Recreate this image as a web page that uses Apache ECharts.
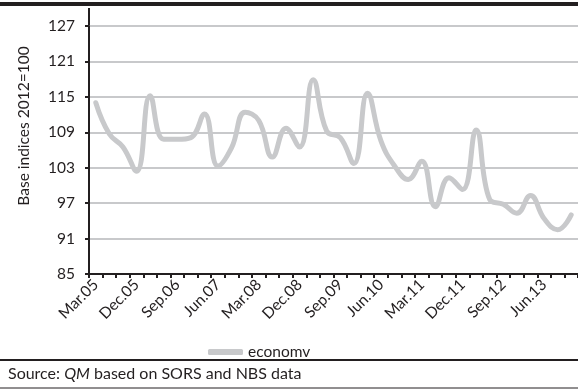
<!DOCTYPE html>
<html>
<head>
<meta charset="utf-8">
<script src="https://cdn.jsdelivr.net/npm/echarts@6/dist/echarts.min.js"></script>
<style>
  html, body { margin: 0; padding: 0; background: #fff; }
  #chart { width: 578px; height: 389px; }
</style>
</head>
<body>
<div id="chart"></div>
<script>
// Quarterly base indices (2012 = 100)
const quarters = [
  'Mar.05','Jun.05','Sep.05','Dec.05',
  'Mar.06','Jun.06','Sep.06','Dec.06',
  'Mar.07','Jun.07','Sep.07','Dec.07',
  'Mar.08','Jun.08','Sep.08','Dec.08',
  'Mar.09','Jun.09','Sep.09','Dec.09',
  'Mar.10','Jun.10','Sep.10','Dec.10',
  'Mar.11','Jun.11','Sep.11','Dec.11',
  'Mar.12','Jun.12','Sep.12','Dec.12',
  'Mar.13','Jun.13','Sep.13','Dec.13'
];
const economvValues = [
  114.0, 108.7, 106.5, 102.4,
  115.2, 107.8, 107.8, 108.1,
  112.1, 103.3, 106.4, 112.4,
  111.0, 104.8, 109.7, 106.5,
  117.9, 109.2, 108.1, 103.7,
  115.6, 107.5, 103.3, 101.0,
  104.1, 96.4, 101.3, 99.3,
  109.4, 97.6, 96.8, 95.3,
  98.3, 94.4, 92.5, 95.0
];
const seriesName = 'economv';
const yAxisTitle = 'Base indices 2012=100';
const sourceNote = ['Source: ', 'QM', ' based on SORS and NBS data'];

const FONT = 'Lato, "Noto Sans", sans-serif';
const INK = '#231f20';
const LINE_GREY = '#c8c9cb';

const chart = echarts.init(document.getElementById('chart'), null, { renderer: 'canvas' });

chart.setOption({
  animation: false,
  backgroundColor: '#ffffff',
  textStyle: { fontFamily: FONT, color: INK },
  grid: { left: 89, right: -1, top: 26, bottom: 115, containLabel: false },
  legend: {
    left: 203, top: 339,
    icon: 'roundRect',
    itemWidth: 35, itemHeight: 6, itemGap: 10,
    textStyle: { fontFamily: FONT, fontSize: 15.5, color: INK },
    data: [seriesName]
  },
  xAxis: {
    type: 'category',
    data: quarters,
    boundaryGap: true,
    axisLine: { lineStyle: { color: INK, width: 2 } },
    axisTick: { show: true, interval: 0, length: 4, lineStyle: { color: INK, width: 2 } },
    axisLabel: {
      interval: 2, rotate: 45, margin: 8,
      fontFamily: FONT, fontSize: 15.5, color: INK
    },
    splitLine: { show: false }
  },
  yAxis: {
    type: 'value',
    min: 85, max: 127, interval: 6,
    axisLine: { show: true, lineStyle: { color: INK, width: 2 } },
    axisTick: { show: true, length: 4, lineStyle: { color: INK, width: 2 } },
    axisLabel: { margin: 14, fontFamily: FONT, fontSize: 15.5, color: INK },
    splitLine: { show: true, lineStyle: { color: LINE_GREY, width: 2 } }
  },
  series: [{
    name: seriesName,
    type: 'line',
    data: economvValues,
    smooth: 0.45,
    showSymbol: false,
    symbol: 'none',
    lineStyle: { color: LINE_GREY, width: 5, cap: 'round', join: 'round' },
    itemStyle: { color: LINE_GREY },
    z: 3
  }],
  graphic: [
    // heavy rule across the top
    { type: 'rect', shape: { x: 0, y: 2, width: 578, height: 4 }, style: { fill: INK }, silent: true },
    // y axis line continues up towards the top rule
    { type: 'line', shape: { x1: 89, y1: 8, x2: 89, y2: 27 }, style: { stroke: INK, lineWidth: 2 }, silent: true },
    // rotated axis title
    {
      type: 'text', x: 24, y: 126, rotation: Math.PI / 2,
      style: { text: yAxisTitle, fontFamily: FONT, fontSize: 15.5, fill: INK, align: 'center', verticalAlign: 'middle' },
      silent: true
    },
    // rule above the source note
    { type: 'line', shape: { x1: 0, y1: 360, x2: 578, y2: 360 }, style: { stroke: INK, lineWidth: 2 }, silent: true },
    {
      type: 'text', x: 8, y: 374,
      style: {
        text: '{n|' + sourceNote[0] + '}{i|' + sourceNote[1] + '}{n|' + sourceNote[2] + '}',
        verticalAlign: 'middle',
        rich: {
          n: { fontFamily: FONT, fontSize: 16, fill: INK },
          i: { fontFamily: FONT, fontSize: 16, fontStyle: 'italic', fill: INK }
        }
      },
      silent: true
    },
    // closing rule at the bottom
    { type: 'line', shape: { x1: 0, y1: 388, x2: 578, y2: 388 }, style: { stroke: INK, lineWidth: 1 }, silent: true }
  ]
});
</script>
</body>
</html>
